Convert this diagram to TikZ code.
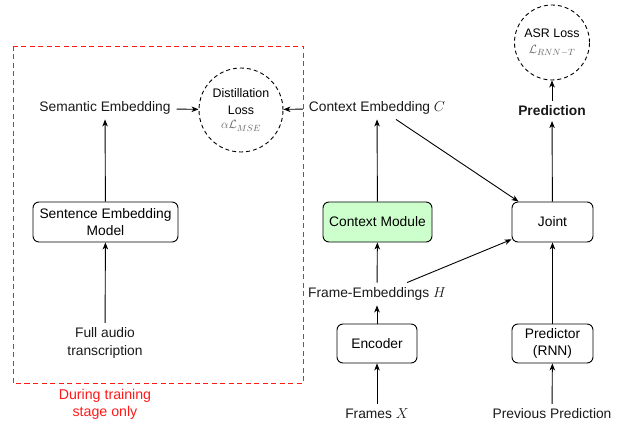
\documentclass[tikz,border=0pt]{standalone}
\usepackage{fontspec}
\setmainfont{Liberation Sans}
\usetikzlibrary{arrows.meta,calc}
\begin{document}
\begin{tikzpicture}[x=1pt,y=-1pt,
  txt/.style={inner sep=0pt,outer sep=0pt,font=\fontsize{13.8}{17.5}\selectfont,align=center,text=black!90},
  lbl/.style={txt,inner xsep=6pt,inner ysep=5pt},
  blk/.style={draw,line width=0.9pt,rounded corners=6pt,minimum width=81pt,minimum height=40pt,inner sep=0pt,align=center,font=\fontsize{13.8}{17.5}\selectfont},
  loss/.style={draw,circle,dashed,dash pattern=on 4pt off 3pt,line width=0.9pt,inner sep=0pt,align=center,font=\fontsize{12.4}{16.5}\selectfont},
  arr/.style={-{Stealth[length=7pt,width=5.5pt,inset=2pt]},line width=0.9pt},
  mth/.style={text=black!60}
]
\useasboundingbox (0,0) rectangle (625,428);
% red dashed training region
\draw[red!90!white,line width=0.9pt,dash pattern=on 5pt off 3.5pt] (13,46) rectangle (303,383);
\node[txt,text=red!90!white,font=\fontsize{14.2}{17}\selectfont] (dur) at (105,404) {During training\\stage only};

% left column
\node[lbl] (sem) at (105,108) {Semantic Embedding};
\node[loss,minimum size=84pt] (dist) at (241,110) {Distillation\\Loss\\[-2pt]{\color{black!60}$\alpha\mathcal{L}_{MSE}$}};
\node[blk,minimum width=145pt] (sem_model) at (105.5,222) {Sentence Embedding\\Model};
\node[lbl] (full) at (105,343) {Full audio\\transcription};

% middle column
\node[lbl] (ctx) at (377,108) {Context Embedding $C$};
\node[blk,fill=green!20!white,minimum width=109pt] (cm) at (377.5,222) {Context Module};
\node[lbl] (fe) at (377,294) {Frame-Embeddings $H$};
\node[blk,minimum width=80pt,minimum height=39pt] (enc) at (377,343.5) {Encoder};
\node[lbl] (frames) at (377,414) {Frames $X$};

% right column
\node[loss,minimum size=75pt] (asr) at (552,42.5) {ASR Loss\\{\color{black!60}$\mathcal{L}_{RNN-T}$}};
\node[lbl,font=\bfseries\fontsize{13.8}{17.5}\selectfont] (pred) at (552,111) {Prediction};
\node[blk] (joint) at (552.5,222) {Joint};
\node[blk,minimum height=39pt] (predictor) at (552.5,343.5) {Predictor\\(RNN)};
\node[lbl] (prev) at (552,414) {Previous Prediction};

% connectors
\draw[arr] (full) -- (sem_model);
\draw[arr] (sem_model) -- (sem);
\draw[arr] (sem) -- (dist);
\draw[arr] (ctx) -- (dist);
\draw[arr] (frames) -- (enc);
\draw[arr] (enc) -- (fe);
\draw[arr] (fe) -- (cm);
\draw[arr] (cm) -- (ctx);
\draw[arr] ([xshift=19pt]ctx.south) -- ([xshift=7pt]joint.north west);
\draw[arr] ([xshift=30pt]fe.north) -- ([yshift=3pt]joint.south west);
\draw[arr] (prev) -- (predictor);
\draw[arr] (predictor) -- (joint);
\draw[arr] (joint) -- (pred);
\draw[arr] (pred) -- (asr);
\end{tikzpicture}
\end{document}
